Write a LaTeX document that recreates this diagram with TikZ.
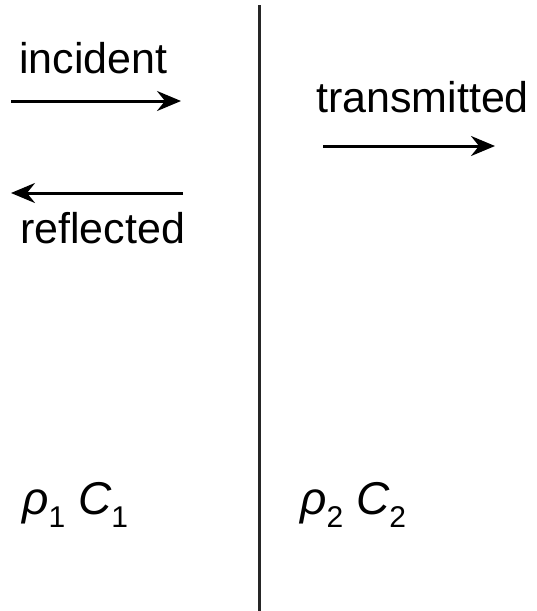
\documentclass[tikz,border=0pt]{standalone}
\usepackage{fontspec}
\setmainfont{Liberation Sans}
\usetikzlibrary{arrows.meta}
\newcommand{\lowsub}[1]{\raisebox{-13pt}{\fontsize{30}{32}\selectfont #1}}
\begin{document}
\begin{tikzpicture}[x=1pt,y=-1pt,
  lbl/.style={anchor=base west,inner sep=0pt,font=\fontsize{43}{50}\selectfont},
  wave/.style={line width=3pt,-{Stealth[length=24pt,width=20pt,inset=8pt]}},
  iface/.style={line width=3pt,draw=black!85}]
\useasboundingbox (0,0) rectangle (536,611);
% interface
\coordinate (top) at (259,5);
\coordinate (bot) at (259,611);
\draw[iface] (top) -- (bot);
% labels
\node[lbl] (inc) at (19,73) {incident};
\node[lbl] (ref) at (20,243) {reflected};
\node[lbl] (tra) at (316,112) {transmitted};
\node[lbl] (m1) at (22,514) {\fontsize{46}{50}\selectfont\textit{ρ}\lowsub{1} \textit{C}\lowsub{1}};
\node[lbl] (m2) at (300,514) {\fontsize{46}{50}\selectfont\textit{ρ}\lowsub{2} \textit{C}\lowsub{2}};
% arrows
\coordinate (i0) at (11,101);
\coordinate (i1) at (181,101);
\coordinate (r0) at (183,193);
\coordinate (r1) at (11,193);
\coordinate (t0) at (323,146);
\coordinate (t1) at (495,146);
\draw[wave] (i0) -- (i1);
\draw[wave] (r0) -- (r1);
\draw[wave] (t0) -- (t1);
\end{tikzpicture}
\end{document}
